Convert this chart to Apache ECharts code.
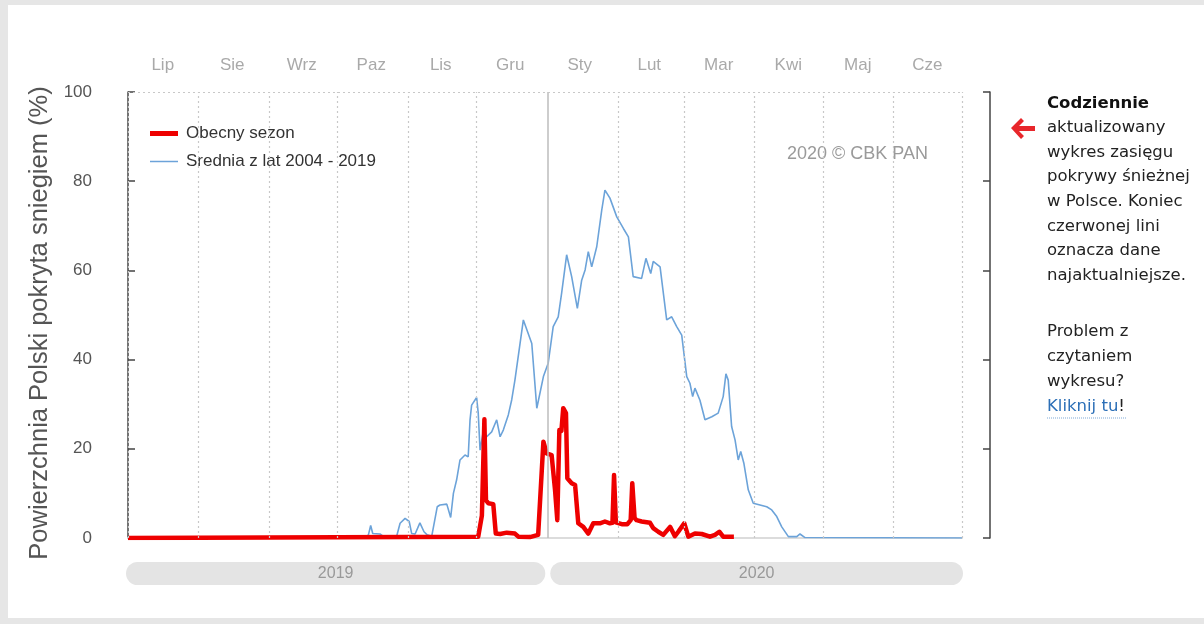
<!DOCTYPE html>
<html>
<head>
<meta charset="utf-8">
<script src="https://cdn.jsdelivr.net/npm/echarts@6/dist/echarts.min.js"></script>
<style>
  html, body { margin: 0; padding: 0; background: #e6e6e6; }
  #panel { position: absolute; left: 8px; top: 5px; width: 1196px; height: 613px; background: #fff; }
  #main { position: absolute; left: 0; top: 0; width: 1204px; height: 624px; }
</style>
</head>
<body>
<div id="panel"></div>
<div id="main"></div>
<script>
// days counted from 1 Jul 2019 (season Jul 2019 - Jun 2020)
var months = ['Lip', 'Sie', 'Wrz', 'Paz', 'Lis', 'Gru', 'Sty', 'Lut', 'Mar', 'Kwi', 'Maj', 'Cze']
var monthStarts = [0, 31, 62, 92, 123, 153, 184, 215, 244, 275, 305, 336, 366]
var yearStart = 184
var years = ['2019', '2020']

// Srednia z lat 2004 - 2019
var avgDays = [0, 104, 105.5, 106.5, 107.4, 110.6, 111.9, 117.9, 119.4, 121.6,
  123.4, 124.5, 126, 128.1, 129.9, 131.3, 133.3, 135.7, 136.9, 139.9,
  141.6, 142.8, 144.2, 145.7, 147.9, 149.3, 150.1, 150.8, 153, 153.7,
  154.5, 155.9, 157.4, 159.6, 161.8, 163.3, 164.7, 166.9, 168.4, 169.8,
  173.5, 177.2, 179.4, 182.3, 184.4, 186.6, 188.8, 190.3, 192.5, 194.7,
  197.2, 199.1, 200.6, 202, 203.5, 205.7, 207.9, 209.3, 211.5, 214.5,
  217.4, 219.6, 221.7, 225.4, 227.3, 229.4, 230.5, 233.5, 236.4, 238.6,
  240.8, 243, 245.2, 246.6, 247.8, 248.8, 251, 253.2, 256.2, 259,
  261.2, 262.4, 263.4, 264.9, 266.4, 267.8, 268.9, 270.3, 272.2, 274.4,
  280.3, 282.5, 284.7, 286.9, 289.8, 293.5, 294.9, 297.1, 366]
var avgVals = [0, 0, 0.7, 2.8, 1.0, 0.9, 0.4, 0.4, 3.3, 4.4,
  3.7, 1.0, 0.9, 3.4, 1.4, 0.7, 0.4, 7.0, 7.4, 7.6,
  4.6, 10.0, 13.0, 17.5, 18.6, 18.2, 26.5, 29.8, 31.5, 28.0,
  19.7, 23.8, 22.7, 23.8, 26.5, 22.7, 24.2, 27.6, 31.0, 35.4,
  48.9, 43.6, 29.1, 36.2, 39.2, 47.4, 49.6, 54.9, 63.5, 58.6,
  51.5, 57.8, 60.1, 64.2, 60.8, 65.3, 73.5, 78.0, 76.2, 72.0,
  69.4, 67.5, 58.6, 58.2, 62.7, 59.3, 62.0, 60.8, 48.9, 49.6,
  47.4, 45.5, 36.2, 34.7, 31.7, 33.6, 30.9, 26.5, 27.2, 28.0,
  31.7, 36.8, 35.4, 25.0, 22.0, 17.5, 19.4, 16.7, 10.8, 7.8,
  7.0, 6.3, 4.8, 2.5, 0.3, 0.3, 0.9, 0.1, 0]

// Obecny sezon
var curDays = [0, 153.7, 155.3, 156.4, 157.1, 158.1, 160.3, 161.4, 163.3, 166.2,
  169.8, 171.3, 176.4, 180.0, 182.3, 183.7, 185.9, 187.4, 188.4, 189.3,
  190.2, 191.0, 192.2, 192.8, 194.7, 196.2, 197.6, 199.8, 202.0, 204.2,
  207.1, 209.3, 211.5, 212.6, 213.3, 214.1, 216.7, 219.1, 220.6, 221.3,
  222.3, 223.2, 225.4, 229.1, 230.5, 232.7, 234.9, 237.9, 240.0, 241.5,
  244.1, 245.9, 248.8, 251.8, 255.4, 257.6, 259.5, 261.2, 265.9]
var curVals = [0, 0.3, 5, 26.6, 8.5, 7.8, 7.6, 1.0, 0.9, 1.2,
  1.0, 0.3, 0.2, 0.7, 21.6, 19.0, 18.6, 10.8, 4.0, 24.2,
  24.0, 29.1, 28.0, 13.4, 12.3, 11.9, 3.3, 2.5, 1.0, 3.3,
  3.3, 3.7, 3.3, 3.4, 14.1, 3.5, 3.1, 3.1, 4.0, 12.3,
  4.5, 4.0, 3.7, 3.4, 2.2, 1.4, 0.7, 2.5, 0.4, 1.4,
  3.3, 0.3, 1.0, 0.9, 0.3, 0.7, 1.4, 0.3, 0.3]

function zip(a, b) {
  return a.map(function (d, i) { return [d, b[i]] })
}

var font = 'Liberation Sans, Arial, sans-serif'
var textFont = 'DejaVu Sans, Verdana, sans-serif'

var chart = echarts.init(document.getElementById('main'))

var monthLines = monthStarts.map(function (d) {
  if (d === yearStart) {
    return { xAxis: d, lineStyle: { type: 'solid', color: '#bdbdbd', width: 1.5 } }
  }
  return { xAxis: d }
})
monthLines.push({ yAxis: 100 })

chart.setOption({
  animation: false,
  textStyle: { fontFamily: font },
  grid: { left: 128, right: 242, top: 92, bottom: 86 },
  legend: {
    orient: 'vertical',
    left: 142,
    top: 117,
    padding: [8, 8],
    backgroundColor: '#fff',
    itemWidth: 28,
    itemHeight: 14,
    itemGap: 11,
    textStyle: { fontSize: 17, color: '#333', padding: [0, 0, 0, 3] },
    data: [
      { name: 'Obecny sezon', icon: 'path://M0,0H28V5H0Z' },
      { name: 'Srednia z lat 2004 - 2019', icon: 'path://M0,0H28V1.5H0Z' }
    ]
  },
  xAxis: [
    {
      type: 'value',
      min: 0,
      max: 366,
      axisLine: { show: true, lineStyle: { color: '#dcdcdc', width: 2 } },
      axisTick: { show: false },
      axisLabel: { show: false },
      splitLine: { show: false }
    },
    {
      type: 'category',
      position: 'top',
      data: months,
      axisLine: { show: false },
      axisTick: { show: false },
      axisLabel: { color: '#a9a9a9', fontSize: 17, margin: 18 },
      splitLine: { show: false }
    }
  ],
  yAxis: [
    {
      type: 'value',
      min: 0,
      max: 100,
      interval: 20,
      offset: 28,
      name: 'Powierzchnia Polski pokryta sniegiem (%)',
      nameLocation: 'middle',
      nameGap: 39,
      nameTextStyle: { fontSize: 25.5, color: '#555', padding: [0, 16, 0, 0] },
      axisLine: { show: true, lineStyle: { color: '#444', width: 1.5 } },
      axisTick: { show: true, inside: true, length: 7, lineStyle: { color: '#444', width: 1.5 } },
      axisLabel: { color: '#555', fontSize: 17, margin: 8 },
      splitLine: { show: false }
    },
    {
      type: 'value',
      min: 0,
      max: 100,
      interval: 20,
      offset: 28,
      position: 'right',
      axisLine: { show: true, lineStyle: { color: '#444', width: 1.5 } },
      axisTick: { show: true, inside: true, length: 7, lineStyle: { color: '#444', width: 1.5 } },
      axisLabel: { show: false },
      splitLine: { show: false }
    }
  ],
  series: [
    {
      name: 'Srednia z lat 2004 - 2019',
      type: 'line',
      symbol: 'none',
      data: zip(avgDays, avgVals),
      lineStyle: { color: '#6ca3d9', width: 1.6 },
      itemStyle: { color: '#6ca3d9' },
      z: 2,
      markLine: {
        silent: true,
        symbol: 'none',
        label: { show: false },
        lineStyle: { type: [2, 3], color: '#c8c8c8', width: 1.2 },
        data: monthLines
      }
    },
    {
      name: 'Obecny sezon',
      type: 'line',
      symbol: 'none',
      data: zip(curDays, curVals),
      lineStyle: { color: '#ee0000', width: 4.5, join: 'round' },
      itemStyle: { color: '#ee0000' },
      z: 3
    }
  ]
})

// decorations that depend on the x scale: year bars below the plot
var px = function (d) { return chart.convertToPixel({ xAxisIndex: 0 }, d) }
var x0 = px(monthStarts[0])
var xm = px(yearStart)
var x1 = px(monthStarts[monthStarts.length - 1])

function yearBar(left, right, label) {
  return {
    type: 'group',
    children: [
      {
        type: 'rect',
        shape: { x: left, y: 562, width: right - left, height: 23, r: 11.5 },
        style: { fill: '#e4e4e4' }
      },
      {
        type: 'text',
        x: (left + right) / 2,
        y: 574,
        style: { text: label, fill: '#999', fontSize: 16, fontFamily: font, align: 'center', verticalAlign: 'middle' }
      }
    ]
  }
}

chart.setOption({
  graphic: [
    yearBar(x0 - 2, xm - 2, years[0]),
    yearBar(xm + 3, x1 + 1, years[1]),
    {
      type: 'text',
      x: 787,
      y: 154,
      style: { text: '2020 © CBK PAN', fill: '#9a9a9a', fontSize: 18, fontFamily: font, verticalAlign: 'middle' }
    },
    {
      type: 'polygon',
      shape: {
        points: [[1011, 128], [1021, 118], [1024, 121], [1019, 126], [1035, 126], [1035, 131], [1019, 131], [1024, 136], [1021, 139]]
      },
      style: { fill: '#e8262b' }
    },
    {
      type: 'text',
      x: 1047,
      y: 91,
      style: {
        text: '{b|Codziennie}\naktualizowany\nwykres zasięgu\npokrywy śnieżnej\nw Polsce. Koniec\nczerwonej lini\noznacza dane\nnajaktualniejsze.',
        fill: '#222',
        fontSize: 16.5,
        fontFamily: textFont,
        lineHeight: 24.6,
        rich: {
          b: { fontWeight: 'bold', fontSize: 16.5, fontFamily: textFont, lineHeight: 24.6, fill: '#111' }
        }
      }
    },
    {
      type: 'text',
      x: 1047,
      y: 319,
      style: {
        text: 'Problem z\nczytaniem\nwykresu?\n{a|Kliknij tu}!',
        fill: '#222',
        fontSize: 16.5,
        fontFamily: textFont,
        lineHeight: 25,
        rich: {
          a: { fill: '#2c6fb7', fontSize: 16.5, fontFamily: textFont, lineHeight: 25 }
        }
      }
    },
    {
      type: 'line',
      shape: { x1: 1047, y1: 418, x2: 1126, y2: 418 },
      style: { stroke: '#7fa9d8', lineWidth: 1, lineDash: [1, 1] }
    }
  ]
})
</script>
</body>
</html>
